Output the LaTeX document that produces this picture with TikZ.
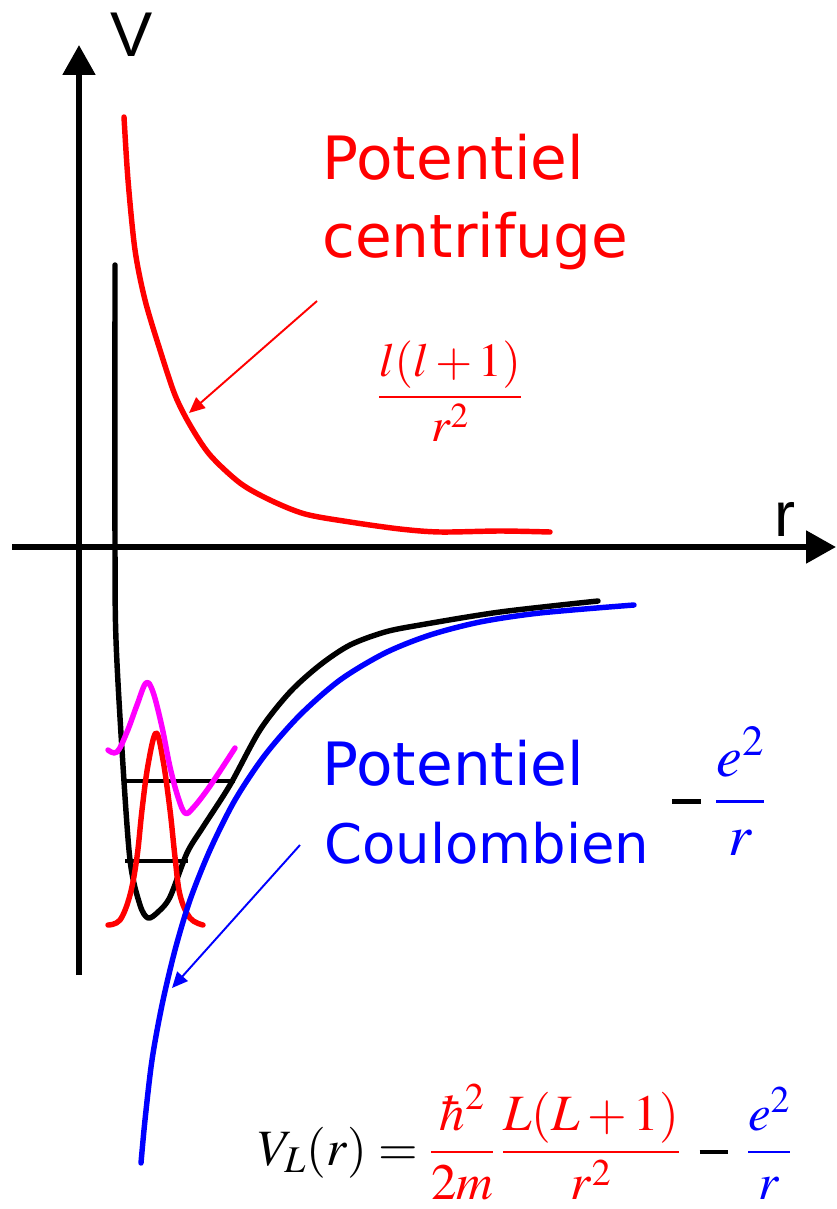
\documentclass[tikz,border=0pt]{standalone}
\usepackage{mathptmx}
\usepackage{fontspec}
\setmainfont{Liberation Serif}
\usetikzlibrary{arrows.meta}
\newfontfamily\axisfont{Liberation Sans}
\newfontfamily\notefont{DejaVu Sans}
\definecolor{PotRed}{HTML}{FF0000}
\definecolor{PotBlue}{HTML}{0000FF}
\definecolor{PotMagenta}{HTML}{FF00FF}
\newcommand{\heavyminus}{\mathbin{\rule[0.21em]{0.55em}{0.085em}}}
\tikzset{
  axisline/.style={line width=3.4pt,-{Triangle[length=17pt,width=18pt]}},
  curve/.style={line width=3.1pt,line cap=round,line join=round},
  levelline/.style={line width=2.8pt},
  pointer/.style={line width=1.1pt,-{Triangle[length=9pt,width=8pt]}},
  axislabel/.style={inner sep=0pt,font=\axisfont\fontsize{36}{40}\selectfont},
  notetext/.style={inner sep=0pt,anchor=base west,font=\notefont\fontsize{34}{40}\selectfont},
  formula/.style={inner sep=0pt,font=\fontsize{29}{34}\selectfont},
}

\begin{document}
\begin{tikzpicture}[x=0.02cm,y=-0.02cm]
  \useasboundingbox (0,0) rectangle (836,1209);
  % axes
  \coordinate (vbot) at (79,975);
  \coordinate (vtop) at (79,45);
  \coordinate (rleft) at (12,547);
  \coordinate (rright) at (836,547);
  \draw[axisline] (vbot) -- (vtop);
  \draw[axisline] (rleft) -- (rright);
  \node[axislabel] (vlab) at (132,35) {V};
  \node[axislabel] (rlab) at (785,519) {r};

  % effective potential and levels
  \draw[curve] plot[smooth,tension=0.5] coordinates {(115,265) (115,547) (116,640) (122,750)
    (130,860) (140,905) (148,918) (158,912) (170,897) (187,853) (203,827) (230,785)
    (260,730) (290,692) (320,665) (350,645) (385,632) (420,625) (500,612) (598,601)};
  \draw[levelline] (125,781) coordinate (lvA) -- (235,781) coordinate (lvB);
  \draw[levelline] (125,861) coordinate (lvC) -- (188,861) coordinate (lvD);

  % wave functions
  \draw[curve,PotRed] plot[smooth,tension=0.6] coordinates {(108,925) (120,920) (130,895)
    (137,857) (142,810) (148,765) (156,733) (163,760) (170,810) (175,857) (180,895)
    (190,918) (203,925)};
  \draw[curve,PotMagenta] plot[smooth,tension=0.6] coordinates {(108,750) (117,752) (127,732)
    (137,705) (146,683) (153,692) (162,727) (170,767) (178,797) (185,813) (193,808)
    (210,786) (235,748)};

  % centrifugal part
  \draw[curve,PotRed] plot[smooth,tension=0.5] coordinates {(124,117) (128,180) (135,250)
    (145,300) (160,350) (175,395) (190,425) (210,455) (240,483) (270,500) (305,514)
    (350,522) (400,529) (440,532) (500,531) (550,532)};

  % Coulomb part
  \draw[curve,PotBlue] plot[smooth,tension=0.5] coordinates {(141,1163) (145,1120) (152,1060)
    (162,1005) (175,950) (190,900) (210,850) (235,800) (265,755) (300,715) (340,680)
    (385,653) (430,635) (480,622) (540,613) (634,605)};

  % labels
  \node[notetext,PotRed] (cfA) at (322,180) {Potentiel};
  \node[notetext,PotRed] (cfB) at (322,257) {centrifuge};
  \node[formula,PotRed,anchor=base,font=\fontsize{27}{32}\selectfont] (cffrac) at (450,409)
    {$\displaystyle\frac{l(l+1)}{r^2}$};
  \node[notetext,PotBlue] (cbA) at (322,785) {Potentiel};
  \node[notetext,PotBlue,font=\notefont\fontsize{31}{36}\selectfont] (cbB) at (324,863) {Coulombien};
  \node[formula,anchor=base west,font=\fontsize{33}{38}\selectfont] (cbfrac) at (672,816)
    {$\rule[0.21em]{0.5em}{0.085em}\;\textcolor{PotBlue}{\displaystyle\frac{e^2}{r}}$};
  \node[formula,anchor=base west] (vlform) at (258,1165)
    {$\displaystyle V_L(r)=\textcolor{PotRed}{\frac{\hbar^2}{2m}\,\frac{L(L+1)}{r^2}}\;\heavyminus\;\textcolor{PotBlue}{\frac{e^2}{r}}$};

  % pointers
  \coordinate (cfFoot) at (317,301);
  \coordinate (cfTip) at (189,413);
  \coordinate (cbFoot) at (300,845);
  \coordinate (cbTip) at (172,988);
  \draw[pointer,PotRed] (cfFoot) -- (cfTip);
  \draw[pointer,PotBlue] (cbFoot) -- (cbTip);
\end{tikzpicture}
\end{document}
